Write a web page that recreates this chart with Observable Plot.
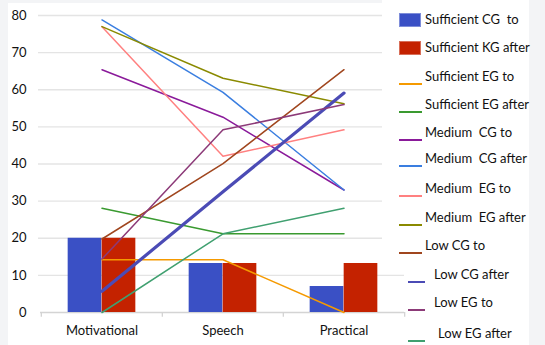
<!DOCTYPE html>
<html>
<head>
<meta charset="utf-8">
<script src="https://cdn.jsdelivr.net/npm/d3@7"></script>
<script src="https://cdn.jsdelivr.net/npm/@observablehq/plot@0.6"></script>
<style>
  html, body { margin: 0; padding: 0; }
  body { width: 545px; height: 345px; background: #f3f4f6; position: relative; overflow: hidden; font-family: Lato, "Open Sans", sans-serif; }
  #panel { position: absolute; left: 8px; top: 3px; width: 521px; height: 342px; background: #fff; }
  #chart { position: absolute; left: 0; top: 0; }
  #legend { position: absolute; left: 382px; top: 0; width: 147px; height: 262px; background: #fff; }
  .item { position: absolute; font-size: 13px; color: #111; white-space: pre; line-height: 1; }
  .sw { position: absolute; }
</style>
</head>
<body>
<div id="panel"></div>
<div id="chart"></div>
<div id="legend"></div>
<script>
const categories = ["Motivational", "Speech", "Practical"];
const yTicks = [0, 10, 20, 30, 40, 50, 60, 70, 80];

// bar series
const sufficientCGto   = [20, 13.2, 7.0];
const sufficientKGafter = [20, 13.2, 13.2];

// line series
const sufficientEGto    = [14.2, 14.2, 0];
const sufficientEGafter = [28.1, 21.2, 21.2];
const mediumCGto        = [65.4, 52.6, 33.0];
const mediumCGafter     = [78.8, 59.3, 33.0];
const mediumEGto        = [77.0, 42.1, 49.2];
const mediumEGafter     = [77.0, 63.1, 56.2];
const lowCGto           = [19.8, 40.1, 65.4];
const lowCGafter        = [5.7, 32.5, 59.1];
const lowEGto           = [14.4, 49.2, 56.0];
const lowEGafter        = [0, 21.2, 28.1];

const barSeries = [
  {name: "Sufficient CG  to", values: sufficientCGto, color: "#3a50c5"},
  {name: "Sufficient KG after", values: sufficientKGafter, color: "#c42200"}
];
const lineSeries = [
  {name: "Sufficient EG to", values: sufficientEGto, color: "#f59a00", w: 1.5},
  {name: "Sufficient EG after", values: sufficientEGafter, color: "#3a9a30", w: 1.5},
  {name: "Medium  CG to", values: mediumCGto, color: "#8a1a9a", w: 1.5},
  {name: "Medium  CG after", values: mediumCGafter, color: "#3a7ee0", w: 1.5},
  {name: "Medium  EG to", values: mediumEGto, color: "#ff8080", w: 1.5},
  {name: "Medium  EG after", values: mediumEGafter, color: "#8a8a00", w: 1.5},
  {name: "Low CG to", values: lowCGto, color: "#a0461e", w: 1.5},
  {name: "Low CG after", values: lowCGafter, color: "#4b4bb5", w: 3.2},
  {name: "Low EG to", values: lowEGto, color: "#8c3a78", w: 1.5},
  {name: "Low EG after", values: lowEGafter, color: "#40a070", w: 1.5}
];

const toRows = s => categories.map((c, i) => ({cat: c, v: s.values[i]}));

const bw = 364 / 3;
const barW = 34;

const marks = [
  Plot.ruleY(yTicks.filter(d => d > 0), {y: d => d, stroke: "#e4e4e4", strokeWidth: 1.3, insetLeft: -2}),
  Plot.ruleY([0], {stroke: "#d4d4d4", strokeWidth: 1.3}),
  Plot.ruleX(categories, {x: d => d, dx: -bw / 2, y1: 0, y2: -1.3, stroke: "#d4d4d4", strokeWidth: 1.3}),
  Plot.ruleX([categories[2]], {x: d => d, dx: bw / 2, y1: 0, y2: -1.3, stroke: "#d4d4d4", strokeWidth: 1.3}),
  Plot.barY(toRows(barSeries[0]), {x: "cat", y: "v", fill: barSeries[0].color, insetLeft: bw / 2 - barW, insetRight: bw / 2}),
  Plot.barY(toRows(barSeries[1]), {x: "cat", y: "v", fill: barSeries[1].color, insetLeft: bw / 2, insetRight: bw / 2 - barW}),
  ...lineSeries.map(s => Plot.line(toRows(s), {x: "cat", y: "v", stroke: s.color, strokeWidth: s.w}))
];

const chart = Plot.plot({
  width: 410,
  height: 345,
  marginLeft: 40,
  marginRight: 6,
  marginTop: 15,
  marginBottom: 33,
  style: {fontFamily: "Lato, 'Open Sans', sans-serif", fontSize: "13px", color: "#111", background: "transparent"},
  x: {type: "band", domain: categories, padding: 0, tickSize: 0, tickPadding: 13, label: null},
  y: {domain: [0, 80], ticks: yTicks, tickSize: 0, tickPadding: 14, label: null},
  marks
});
document.getElementById("chart").appendChild(chart);

// legend
const legend = document.getElementById("legend");
const L = [
  {name: barSeries[0].name, color: barSeries[0].color, type: "rect", ty: 20},
  {name: barSeries[1].name, color: barSeries[1].color, type: "rect", ty: 48},
  ...lineSeries.map((s, i) => ({name: s.name, color: s.color, type: "line", ty: [77, 105, 133, 159, 189, 218, 246, 275, 303, 334][i]}))
];
L.forEach((d, i) => {
  const shifted = i >= 9;
  const sx = shifted ? 408 : 399;
  const sw = shifted ? 17 : 23;
  const tx = i === 11 ? 438 : (shifted ? 434 : 425);
  const s = document.createElement("div");
  s.className = "sw";
  if (d.type === "rect") {
    s.style.left = (sx - 382) + "px";
    s.style.top = (d.ty - 7) + "px";
    s.style.width = "22px";
    s.style.height = "14px";
    s.style.background = d.color;
    s.style.boxShadow = "inset 0 0 0 1px rgba(255,255,255,0.35)";
  } else {
    s.style.left = (sx - 382) + "px";
    s.style.top = (d.ty + 6) + "px";
    s.style.width = sw + "px";
    s.style.height = "1.5px";
    s.style.background = d.color;
  }
  const t = document.createElement("div");
  t.className = "item";
  t.textContent = d.name;
  t.style.left = (tx - 382) + "px";
  t.style.top = (d.ty - 7) + "px";
  legend.appendChild(s);
  legend.appendChild(t);
});
legend.style.overflow = "visible";
</script>
</body>
</html>
